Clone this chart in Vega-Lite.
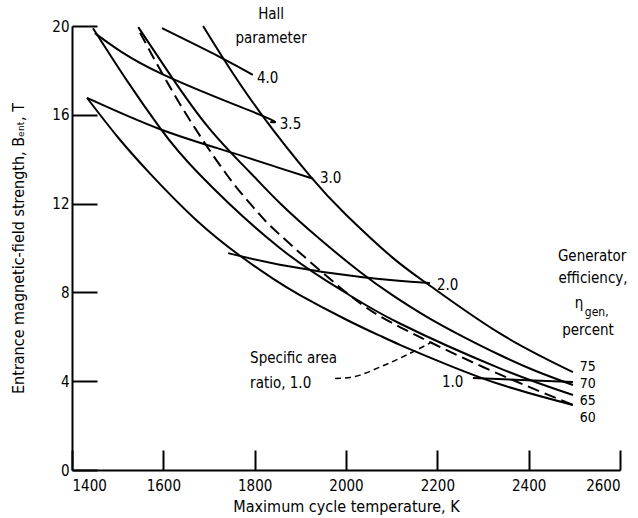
{
  "$schema": "https://vega.github.io/schema/vega-lite/v6.json",
  "width": 548,
  "height": 444,
  "autosize": {"type": "none"},
  "padding": {"left": 72, "top": 26, "right": 18, "bottom": 48},
  "background": "white",
  "config": {
    "view": {"stroke": null},
    "font": "DejaVu Sans Condensed, Liberation Sans, sans-serif",
    "axis": {
      "grid": false,
      "domainColor": "black",
      "domainWidth": 2,
      "tickColor": "black",
      "tickWidth": 2,
      "labelColor": "black",
      "labelFontSize": 15,
      "labelFont": "DejaVu Sans Condensed, Liberation Sans, sans-serif",
      "titleFont": "DejaVu Sans Condensed, Liberation Sans, sans-serif",
      "titleFontSize": 16,
      "titleFontWeight": "normal",
      "titleColor": "black"
    }
  },
  "datasets": {
    "solid": [
      {"s": "75", "x": 1687, "y": 20},
      {"s": "75", "x": 1731, "y": 18.55},
      {"s": "75", "x": 1812, "y": 16.1},
      {"s": "75", "x": 1921, "y": 13.25},
      {"s": "75", "x": 2000, "y": 11.5},
      {"s": "75", "x": 2100, "y": 9.6},
      {"s": "75", "x": 2184, "y": 8.3},
      {"s": "75", "x": 2337, "y": 6.15},
      {"s": "75", "x": 2497, "y": 4.41},
      {"s": "70", "x": 1545, "y": 19.95},
      {"s": "70", "x": 1615, "y": 17.8},
      {"s": "70", "x": 1700, "y": 15.4},
      {"s": "70", "x": 1790, "y": 13.4},
      {"s": "70", "x": 1855, "y": 12.03},
      {"s": "70", "x": 1940, "y": 10.45},
      {"s": "70", "x": 2031, "y": 8.92},
      {"s": "70", "x": 2100, "y": 7.9},
      {"s": "70", "x": 2177, "y": 6.9},
      {"s": "70", "x": 2257, "y": 6.0},
      {"s": "70", "x": 2337, "y": 5.18},
      {"s": "70", "x": 2417, "y": 4.45},
      {"s": "70", "x": 2497, "y": 3.83},
      {"s": "65", "x": 1446, "y": 19.9},
      {"s": "65", "x": 1520, "y": 17.55},
      {"s": "65", "x": 1593, "y": 15.4},
      {"s": "65", "x": 1680, "y": 13.3},
      {"s": "65", "x": 1855, "y": 10.0},
      {"s": "65", "x": 2002, "y": 7.95},
      {"s": "65", "x": 2118, "y": 6.6},
      {"s": "65", "x": 2337, "y": 4.58},
      {"s": "65", "x": 2497, "y": 3.38},
      {"s": "60", "x": 1433, "y": 16.76},
      {"s": "60", "x": 1500, "y": 15.0},
      {"s": "60", "x": 1571, "y": 13.35},
      {"s": "60", "x": 1670, "y": 11.3},
      {"s": "60", "x": 1768, "y": 9.65},
      {"s": "60", "x": 1840, "y": 8.62},
      {"s": "60", "x": 1899, "y": 7.88},
      {"s": "60", "x": 2000, "y": 6.78},
      {"s": "60", "x": 2074, "y": 6.05},
      {"s": "60", "x": 2118, "y": 5.64},
      {"s": "60", "x": 2200, "y": 4.93},
      {"s": "60", "x": 2337, "y": 3.86},
      {"s": "60", "x": 2497, "y": 2.93},
      {"s": "h4.0", "x": 1597, "y": 19.9},
      {"s": "h4.0", "x": 1724, "y": 18.6},
      {"s": "h4.0", "x": 1796, "y": 17.8},
      {"s": "h3.5", "x": 1450, "y": 19.68},
      {"s": "h3.5", "x": 1593, "y": 17.88},
      {"s": "h3.5", "x": 1812, "y": 16.0},
      {"s": "h3.5", "x": 1834, "y": 15.68},
      {"s": "h3.0", "x": 1433, "y": 16.76},
      {"s": "h3.0", "x": 1593, "y": 15.35},
      {"s": "h3.0", "x": 1746, "y": 14.32},
      {"s": "h3.0", "x": 1855, "y": 13.6},
      {"s": "h3.0", "x": 1928, "y": 13.12},
      {"s": "h2.0", "x": 1742, "y": 9.77},
      {"s": "h2.0", "x": 1855, "y": 9.25},
      {"s": "h2.0", "x": 2037, "y": 8.68},
      {"s": "h2.0", "x": 2184, "y": 8.42},
      {"s": "h1.0", "x": 2278, "y": 4.14},
      {"s": "h1.0", "x": 2497, "y": 3.96}
    ],
    "dashed": [
      {"x": 1549, "y": 19.7},
      {"x": 1636, "y": 16.5},
      {"x": 1739, "y": 13.3},
      {"x": 1805, "y": 11.65},
      {"x": 1855, "y": 10.6},
      {"x": 2002, "y": 7.97},
      {"x": 2118, "y": 6.44},
      {"x": 2300, "y": 4.64},
      {"x": 2497, "y": 2.93}
    ],
    "leader": [
      {"x": 1976, "y": 4.12},
      {"x": 2009, "y": 4.17},
      {"x": 2085, "y": 4.73},
      {"x": 2184, "y": 5.72}
    ],
    "leftLabels": [
      {"t": "4.0", "x": 1805, "y": 17.66},
      {"t": "3.5", "x": 1855, "y": 15.59},
      {"t": "3.0", "x": 1943, "y": 13.15},
      {"t": "2.0", "x": 2199, "y": 8.33},
      {"t": "1.0", "x": 2210, "y": 3.96},
      {"t": "Specific area", "x": 1790, "y": 5.05},
      {"t": "ratio,  1.0", "x": 1790, "y": 3.92},
      {"t": "η", "x": 2501, "y": 7.52}
    ],
    "effLabels": [
      {"t": "75", "x": 2512, "y": 4.66},
      {"t": "70", "x": 2512, "y": 3.89},
      {"t": "65", "x": 2512, "y": 3.12},
      {"t": "60", "x": 2512, "y": 2.35}
    ],
    "centerLabels": [
      {"t": "Hall", "x": 1836, "y": 20.54},
      {"t": "parameter", "x": 1836, "y": 19.46},
      {"t": "Generator", "x": 2539, "y": 9.64},
      {"t": "efficiency,", "x": 2541, "y": 8.65},
      {"t": "percent", "x": 2530, "y": 6.31}
    ],
    "subLabels": [
      {"t": "gen,", "x": 2523, "y": 7.12}
    ]
  },
  "layer": [
    {
      "data": {"name": "solid"},
      "mark": {"type": "line", "color": "black", "strokeWidth": 2, "interpolate": "natural"},
      "encoding": {
        "x": {
          "field": "x", "type": "quantitative",
          "scale": {"domain": [1400, 2600], "nice": false},
          "axis": {
            "values": [1400, 1600, 1800, 2000, 2200, 2400, 2600],
            "format": "d",
            "tickSize": -20,
            "labelPadding": 28,
            "titlePadding": 5,
            "title": "Maximum cycle temperature, K"
          }
        },
        "y": {
          "field": "y", "type": "quantitative",
          "scale": {"domain": [0, 20], "nice": false},
          "axis": {
            "values": [0, 4, 8, 12, 16, 20],
            "format": "d",
            "tickSize": -25,
            "labelPadding": 28,
            "titlePadding": 25,
            "title": "Entrance magnetic-field strength, Bₑₙₜ, T"
          }
        },
        "detail": {"field": "s"}
      }
    },
    {
      "data": {"name": "dashed"},
      "mark": {"type": "line", "color": "black", "strokeWidth": 2, "strokeDash": [12, 6], "interpolate": "natural"},
      "encoding": {
        "x": {"field": "x", "type": "quantitative"},
        "y": {"field": "y", "type": "quantitative"}
      }
    },
    {
      "data": {"name": "leader"},
      "mark": {"type": "line", "color": "black", "strokeWidth": 1.5, "strokeDash": [6, 4], "interpolate": "monotone"},
      "encoding": {
        "x": {"field": "x", "type": "quantitative"},
        "y": {"field": "y", "type": "quantitative"}
      }
    },
    {
      "data": {"name": "leftLabels"},
      "mark": {"type": "text", "align": "left", "baseline": "middle", "fontSize": 15, "color": "black"},
      "encoding": {
        "x": {"field": "x", "type": "quantitative"},
        "y": {"field": "y", "type": "quantitative"},
        "text": {"field": "t"}
      }
    },
    {
      "data": {"name": "effLabels"},
      "mark": {"type": "text", "align": "left", "baseline": "middle", "fontSize": 14, "color": "black"},
      "encoding": {
        "x": {"field": "x", "type": "quantitative"},
        "y": {"field": "y", "type": "quantitative"},
        "text": {"field": "t"}
      }
    },
    {
      "data": {"name": "centerLabels"},
      "mark": {"type": "text", "align": "center", "baseline": "middle", "fontSize": 15, "color": "black"},
      "encoding": {
        "x": {"field": "x", "type": "quantitative"},
        "y": {"field": "y", "type": "quantitative"},
        "text": {"field": "t"}
      }
    },
    {
      "data": {"name": "subLabels"},
      "mark": {"type": "text", "align": "left", "baseline": "middle", "fontSize": 12, "color": "black"},
      "encoding": {
        "x": {"field": "x", "type": "quantitative"},
        "y": {"field": "y", "type": "quantitative"},
        "text": {"field": "t"}
      }
    }
  ]
}
